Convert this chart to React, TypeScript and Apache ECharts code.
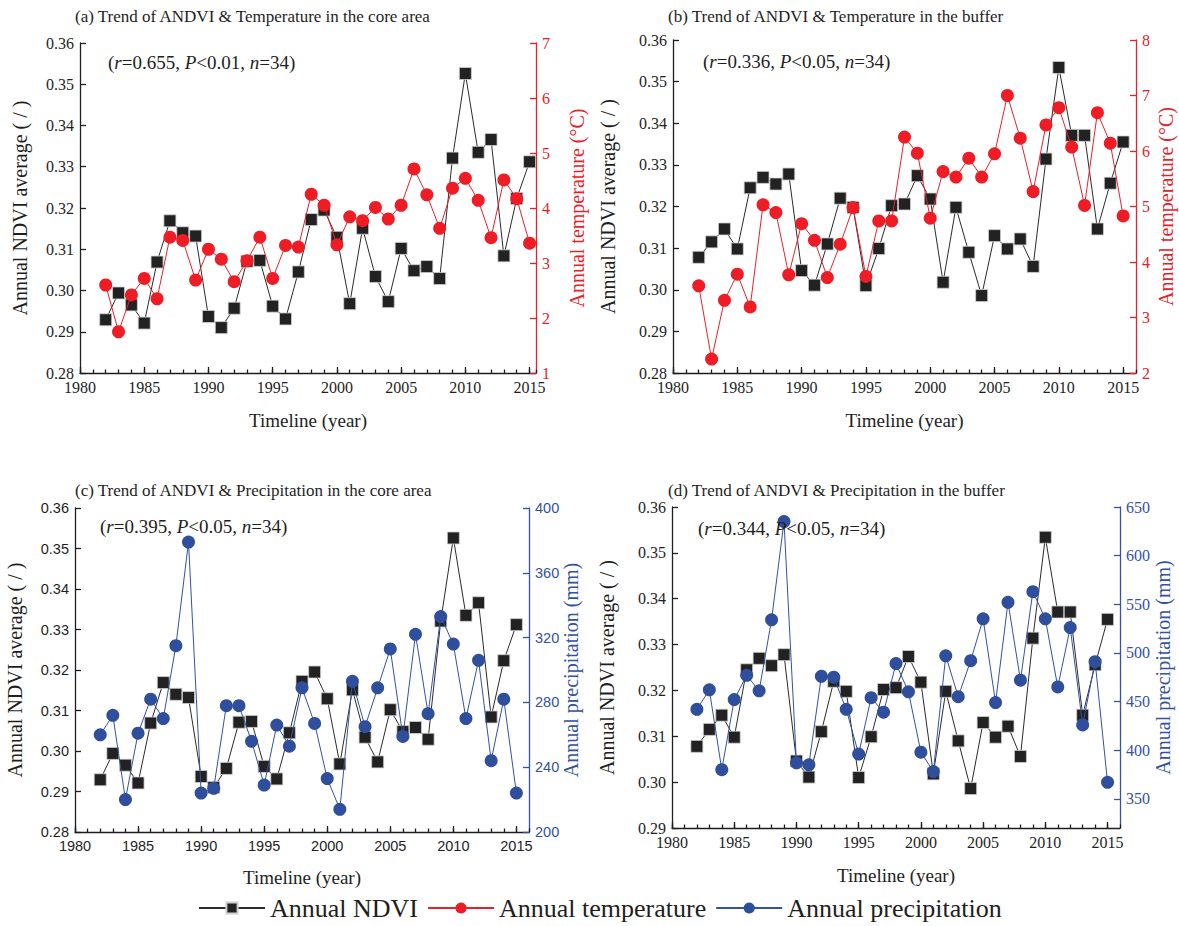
import React, { useEffect, useRef } from "react";
import * as echarts from "echarts";

const years = [1982, 1983, 1984, 1985, 1986, 1987, 1988, 1989, 1990, 1991, 1992, 1993, 1994, 1995, 1996, 1997, 1998, 1999, 2000, 2001, 2002, 2003, 2004, 2005, 2006, 2007, 2008, 2009, 2010, 2011, 2012, 2013, 2014, 2015];

const ndviCore = [0.2929, 0.2994, 0.2965, 0.2921, 0.3069, 0.3169, 0.3140, 0.3132, 0.2937, 0.2910, 0.2957, 0.3071, 0.3073, 0.2962, 0.2931, 0.3045, 0.3172, 0.3195, 0.3129, 0.2968, 0.3151, 0.3034, 0.2973, 0.3102, 0.3048, 0.3058, 0.3029, 0.3321, 0.3526, 0.3335, 0.3366, 0.3084, 0.3223, 0.3312];
const ndviBuffer = [0.3078, 0.3115, 0.3146, 0.3098, 0.3245, 0.3270, 0.3254, 0.3278, 0.3046, 0.3011, 0.3110, 0.3220, 0.3198, 0.3010, 0.3099, 0.3202, 0.3206, 0.3274, 0.3218, 0.3018, 0.3198, 0.3090, 0.2986, 0.3130, 0.3098, 0.3122, 0.3056, 0.3314, 0.3534, 0.3371, 0.3371, 0.3146, 0.3256, 0.3355];
const tempCore = [2.60, 1.75, 2.42, 2.72, 2.35, 3.47, 3.41, 2.69, 3.25, 3.07, 2.66, 3.04, 3.47, 2.72, 3.32, 3.29, 4.25, 4.05, 3.33, 3.84, 3.77, 4.01, 3.80, 4.05, 4.71, 4.24, 3.63, 4.36, 4.54, 4.14, 3.46, 4.51, 4.17, 3.36];
const tempBuffer = [3.57, 2.25, 3.31, 3.78, 3.19, 5.03, 4.89, 3.77, 4.69, 4.39, 3.72, 4.32, 4.98, 3.74, 4.74, 4.74, 6.25, 5.96, 4.79, 5.63, 5.53, 5.87, 5.53, 5.95, 7.00, 6.23, 5.27, 6.47, 6.78, 6.07, 5.02, 6.69, 6.14, 4.83];
const precipCore = [260, 272, 220, 261, 282, 270, 315, 379, 224, 227, 278, 278, 256, 229, 266, 253, 289, 267, 233, 214, 293, 265, 289, 313, 259, 322, 273, 333, 316, 270, 306, 244, 282, 224];
const precipBuffer = [442, 462, 380, 452, 477, 461, 534, 635, 387, 385, 476, 475, 442, 396, 454, 439, 489, 460, 398, 378, 497, 455, 492, 535, 449, 552, 472, 563, 535, 465, 526, 426, 491, 367];

const panelTitles = [
  "(a) Trend of ANDVI & Temperature in the core area",
  "(b) Trend of ANDVI & Temperature in the buffer",
  "(c) Trend of ANDVI & Precipitation in the core area",
  "(d) Trend of ANDVI & Precipitation in the buffer",
];
const statR = ["0.655", "0.336", "0.395", "0.344"];
const statP = ["0.01", "0.05", "0.05", "0.05"];
const statN = ["34", "34", "34", "34"];
const precipBufferTicks = [350, 400, 450, 500, 550, 600, 650];

const SERIF = "'Liberation Serif','Times New Roman',serif";
const SANS = "'Liberation Sans',Arial,sans-serif";
const BLACK = "#1e1e1e";
const RED = "#e6212a";
const BLUE = "#33529f";

type PanelCfg = {
  grid: { left: number; top: number; width: number; height: number };
  xMax: number;
  leftMin: number;
  leftMax: number;
  leftGap: number;
  rightMin: number;
  rightMax: number;
  rightInterval?: number;
  rightCustom?: number[];
  rightName: string;
  rightColor: string;
  rightGap: number;
  xNameGap: number;
  ndvi: number[];
  other: number[];
  otherName: string;
  otherSymbolColor: string;
  labelFont: string;
  labelSize: number;
  titlePos: [number, number];
  statPos: [number, number];
};

const panels: PanelCfg[] = [
  {
    grid: { left: 80, top: 43, width: 456, height: 330 },
    xMax: 2015.5, leftMin: 0.28, leftMax: 0.36, leftGap: 50,
    rightMin: 1, rightMax: 7, rightInterval: 1,
    rightName: "Annual temperature (°C)", rightColor: RED, rightGap: 31,
    xNameGap: 38, ndvi: ndviCore, other: tempCore, otherName: "Annual temperature",
    otherSymbolColor: "#ee1c25", labelFont: SERIF, labelSize: 16, titlePos: [75, 8], statPos: [108, 53],
  },
  {
    grid: { left: 673, top: 40, width: 463, height: 333 },
    xMax: 2016, leftMin: 0.28, leftMax: 0.36, leftGap: 55,
    rightMin: 2, rightMax: 8, rightInterval: 1,
    rightName: "Annual temperature (°C)", rightColor: RED, rightGap: 20,
    xNameGap: 38, ndvi: ndviBuffer, other: tempBuffer, otherName: "Annual temperature",
    otherSymbolColor: "#ee1c25", labelFont: SERIF, labelSize: 16, titlePos: [668, 8], statPos: [703, 52],
  },
  {
    grid: { left: 75, top: 508, width: 454, height: 324 },
    xMax: 2016, leftMin: 0.28, leftMax: 0.36, leftGap: 50,
    rightMin: 200, rightMax: 400, rightInterval: 40,
    rightName: "Annual precipitation (mm)", rightColor: BLUE, rightGap: 32,
    xNameGap: 36, ndvi: ndviCore, other: precipCore, otherName: "Annual precipitation",
    otherSymbolColor: "#2f4e9c", labelFont: SANS, labelSize: 14.5, titlePos: [75, 482], statPos: [100, 517],
  },
  {
    grid: { left: 672, top: 507, width: 448, height: 321 },
    xMax: 2016, leftMin: 0.29, leftMax: 0.36, leftGap: 55,
    rightMin: 320, rightMax: 650, rightCustom: precipBufferTicks,
    rightName: "Annual precipitation (mm)", rightColor: BLUE, rightGap: 33,
    xNameGap: 38, ndvi: ndviBuffer, other: precipBuffer, otherName: "Annual precipitation",
    otherSymbolColor: "#2f4e9c", labelFont: SERIF, labelSize: 16, titlePos: [668, 482], statPos: [698, 519],
  },
];

function buildOption() {
  const grid: any[] = [];
  const xAxis: any[] = [];
  const yAxis: any[] = [];
  const series: any[] = [];
  const title: any[] = [];

  panels.forEach((p, i) => {
    grid.push({ ...p.grid, containLabel: false });
    const lineBlack = { color: BLACK, width: 1.3 };
    xAxis.push({
      gridIndex: i, type: "value", min: 1980, max: p.xMax, interval: 5, position: "bottom",
      axisLine: { onZero: false, lineStyle: lineBlack },
      axisTick: { inside: true, length: 6, lineStyle: lineBlack },
      axisLabel: { showMaxLabel: false, fontSize: p.labelSize, fontFamily: p.labelFont, color: BLACK, margin: 6, formatter: (v: number) => String(v) },
      splitLine: { show: false },
      name: "Timeline (year)", nameLocation: "middle", nameGap: p.xNameGap, nameMoveOverlap: false,
      nameTextStyle: { fontSize: 19, fontWeight: "normal", fontFamily: SERIF, color: BLACK },
    });
    xAxis.push({
      gridIndex: i, type: "value", min: 1980, max: p.xMax, interval: 1, position: "bottom",
      axisLine: { show: false, onZero: false },
      axisTick: { inside: true, length: 3.5, lineStyle: lineBlack },
      axisLabel: { show: false },
      splitLine: { show: false },
    });
    yAxis.push({
      gridIndex: i, type: "value", min: p.leftMin, max: p.leftMax, interval: 0.01, position: "left",
      axisLine: { show: true, onZero: false, lineStyle: lineBlack },
      axisTick: { show: true, inside: true, length: 6, lineStyle: lineBlack },
      axisLabel: { fontSize: p.labelSize, fontFamily: p.labelFont, color: BLACK, margin: 6, formatter: (v: number) => v.toFixed(2) },
      splitLine: { show: false },
      name: "Annual NDVI average ( / )", nameLocation: "middle", nameGap: p.leftGap, nameRotate: 90,
      nameMoveOverlap: false,
      nameTextStyle: { fontSize: 20, fontWeight: "normal", fontFamily: SERIF, color: BLACK },
    });
    const rc = { color: p.rightColor, width: 1.3 };
    const right: any = {
      gridIndex: i, type: "value", min: p.rightMin, max: p.rightMax, position: "right",
      axisLine: { show: true, onZero: false, lineStyle: rc },
      axisTick: { show: true, inside: true, length: 6, lineStyle: rc },
      axisLabel: { fontSize: p.labelSize, fontFamily: p.labelFont, color: p.rightColor, margin: 6 },
      splitLine: { show: false },
      name: p.rightName, nameLocation: "middle", nameGap: p.rightGap, nameRotate: 90,
      nameMoveOverlap: false,
      nameTextStyle: { fontSize: 20, fontWeight: "normal", fontFamily: SERIF, color: p.rightColor },
    };
    if (p.rightInterval) right.interval = p.rightInterval;
    if (p.rightCustom) {
      right.axisLabel.customValues = p.rightCustom;
      right.axisTick.customValues = p.rightCustom;
    }
    yAxis.push(right);

    series.push({
      type: "line", name: "Annual NDVI", xAxisIndex: 2 * i, yAxisIndex: 2 * i,
      data: years.map((y, k) => [y, p.ndvi[k]]),
      symbol: "rect", symbolSize: 12,
      lineStyle: { color: "#2a2a2a", width: 1 },
      itemStyle: { color: "#222222", borderColor: "#cfcfcf", borderWidth: 0.8 },
      z: 2,
    });
    series.push({
      type: "line", name: p.otherName, xAxisIndex: 2 * i, yAxisIndex: 2 * i + 1,
      data: years.map((y, k) => [y, p.other[k]]),
      symbol: "circle", symbolSize: 13,
      lineStyle: { color: p.rightColor, width: 1 },
      itemStyle: { color: p.otherSymbolColor, borderColor: p.otherSymbolColor, borderWidth: 0 },
      z: 3,
    });

    title.push({
      text: panelTitles[i], left: p.titlePos[0], top: p.titlePos[1], padding: 0,
      textStyle: { fontSize: 17, fontWeight: "normal", fontFamily: SERIF, color: BLACK },
    });
    title.push({
      text: `{n|(}{i|r}{n|=${statR[i]}, }{i|P}{n|<${statP[i]}, }{i|n}{n|=${statN[i]})}`,
      left: p.statPos[0], top: p.statPos[1], padding: 0,
      textStyle: {
        fontSize: 19, fontWeight: "normal", fontFamily: SERIF, color: BLACK,
        rich: {
          n: { fontSize: 19, fontFamily: SERIF, color: BLACK },
          i: { fontSize: 19, fontFamily: SERIF, color: BLACK, fontStyle: "italic" },
        },
      },
    });
  });

  return {
    animation: false,
    backgroundColor: "#ffffff",
    title,
    grid,
    xAxis,
    yAxis,
    series,
    legend: {
      data: ["Annual NDVI", "Annual temperature", "Annual precipitation"],
      left: 193, bottom: 0, itemWidth: 66, itemHeight: 14, itemGap: 9,
      selectedMode: false,
      textStyle: { fontSize: 26, fontFamily: SERIF, color: BLACK },
    },
  };
}

export default function App() {
  const ref = useRef<HTMLDivElement>(null);
  useEffect(() => {
    if (!ref.current) return;
    const chart = echarts.init(ref.current, undefined, { renderer: "svg" });
    chart.setOption(buildOption() as any);
    return () => chart.dispose();
  }, []);
  return (
    <div
      ref={ref}
      style={{ position: "fixed", left: 0, top: 0, width: 1179, height: 926, background: "#fff" }}
    />
  );
}
